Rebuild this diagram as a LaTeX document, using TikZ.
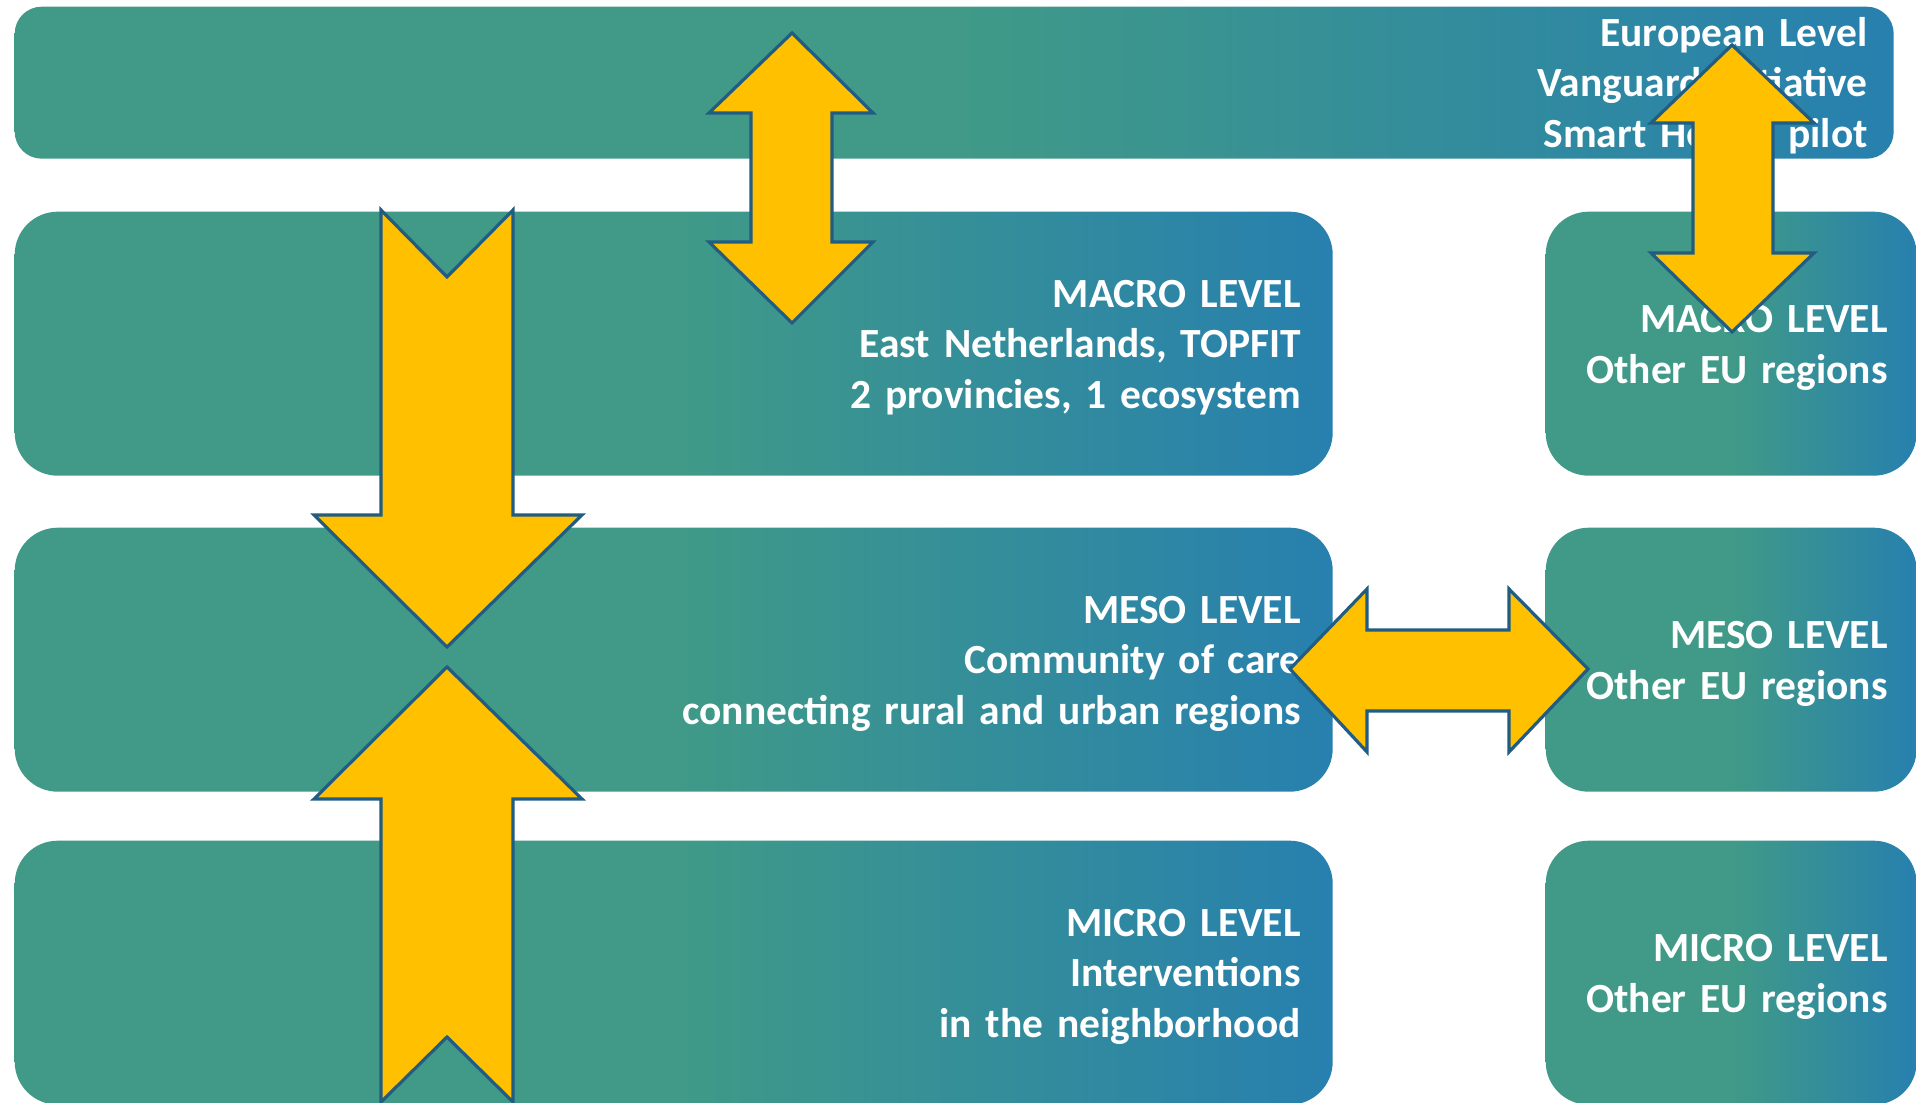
\documentclass[tikz,border=0pt]{standalone}
\usepackage{fontspec}
\setmainfont{Carlito}
\usepackage{tikz}

\definecolor{lvgreen}{RGB}{64,154,135}
\definecolor{lvblue}{RGB}{39,128,174}
\definecolor{arrowgold}{RGB}{255,192,0}
\definecolor{arrowline}{RGB}{33,92,130}
\pgfdeclarehorizontalshading{levelshade}{100bp}{color(0bp)=(lvgreen); color(25bp)=(lvgreen); color(50bp)=(lvgreen); color(75bp)=(lvblue); color(100bp)=(lvblue)}

\begin{document}
\begin{tikzpicture}[
    levelbox/.style={shade, shading=levelshade, text=white, align=right, inner ysep=0pt, anchor=north west,
        font=\bfseries\fontsize{11.8}{14.3}\selectfont,
        execute at begin node=\rule{0pt}{10.8pt}, execute at end node=\rule[-2.7pt]{0pt}{2.7pt}},
    topbox/.style={levelbox, rounded corners=0.27cm, minimum width=18.79cm, minimum height=1.52cm, inner xsep=0.26cm, text width=18.27cm},
    leftbox/.style={levelbox, rounded corners=0.43cm, minimum width=13.18cm, minimum height=2.64cm, inner xsep=0.32cm, text width=12.54cm},
    eubox/.style={levelbox, rounded corners=0.43cm, minimum width=3.71cm, minimum height=2.64cm, inner xsep=0.29cm, text width=3.13cm},
    blockarrow/.style={fill=arrowgold, draw=arrowline, line width=0.9pt, line join=miter}]
                    \useasboundingbox (0,0) rectangle (19.16,11.03);
                    \node [topbox] (europe) at (0.14,10.97) {European Level\\Vanguard Initiative\\Smart Health pilot};
                    \node [leftbox] (macro) at (0.14,8.92) {MACRO LEVEL\\East Netherlands, TOPFIT\\2 provincies, 1 ecosystem};
                    \node [leftbox] (meso) at (0.14,5.76) {MESO LEVEL\\Community of care\\connecting rural and urban regions};
                    \node [leftbox] (micro) at (0.14,2.63) {MICRO LEVEL\\Interventions\\in the neighborhood};
                    \node [eubox] (macroeu) at (15.45,8.92) {MACRO LEVEL\\Other EU regions};
                    \node [eubox] (mesoeu) at (15.45,5.76) {MESO LEVEL\\Other EU regions};
                    \node [eubox] (microeu) at (15.45,2.63) {MICRO LEVEL\\Other EU regions};
                    \draw [blockarrow] (3.81,8.93) -- (4.47,8.26) -- (5.13,8.93) -- (5.13,5.88) -- (5.82,5.88) -- (4.47,4.56)
                        -- (3.14,5.88) -- (3.81,5.88) -- cycle;
                    \draw [blockarrow] (3.81,0.01) -- (4.47,0.66) -- (5.13,0.01) -- (5.13,3.04) -- (5.82,3.04) -- (4.47,4.36)
                        -- (3.14,3.04) -- (3.81,3.04) -- cycle;
                    \draw [blockarrow] (7.92,10.70) -- (8.73,9.90) -- (8.32,9.90) -- (8.32,8.61) -- (8.73,8.61) -- (7.92,7.80)
                        -- (7.09,8.61) -- (7.51,8.61) -- (7.51,9.90) -- (7.09,9.90) -- cycle;
                    \draw [blockarrow] (17.32,10.58) -- (18.14,9.80) -- (17.73,9.80) -- (17.73,8.50) -- (18.14,8.50) -- (17.32,7.71)
                        -- (16.51,8.50) -- (16.93,8.50) -- (16.93,9.80) -- (16.51,9.80) -- cycle;
                    \draw [blockarrow] (12.90,4.34) -- (13.67,5.14) -- (13.67,4.73) -- (15.09,4.73) -- (15.09,5.14) -- (15.88,4.34)
                        -- (15.09,3.51) -- (15.09,3.92) -- (13.67,3.92) -- (13.67,3.51) -- cycle;
\end{tikzpicture}
\end{document}
